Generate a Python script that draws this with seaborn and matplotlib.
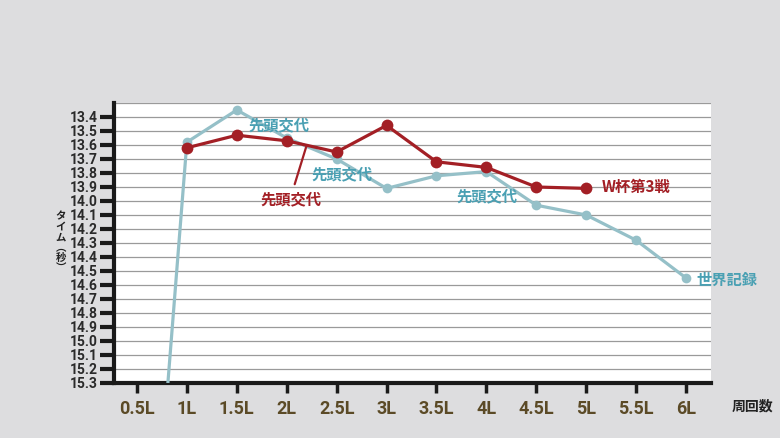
import pandas as pd
import numpy as np
import seaborn as sns
import matplotlib.pyplot as plt

#### data

laps = [0.5, 1, 1.5, 2, 2.5, 3, 3.5, 4, 4.5, 5, 5.5, 6]
lap_labels = ['0.5L', '1L', '1.5L', '2L', '2.5L', '3L', '3.5L', '4L', '4.5L', '5L', '5.5L', '6L']

# world record (light blue), the 0.5L split is off the scale
record_times = [18.1, 13.58, 13.35, 13.55, 13.70, 13.91, 13.82, 13.79, 14.03, 14.10, 14.28, 14.55]
# W杯第3戦 (red), no 0.5L point, ends at 5L
wc_laps = [1, 1.5, 2, 2.5, 3, 3.5, 4, 4.5, 5]
wc_times = [13.62, 13.53, 13.57, 13.65, 13.46, 13.72, 13.76, 13.90, 13.91]

y_ticks = [round(13.4 + 0.1 * i, 1) for i in range(20)]
y_title = ['タ', 'イ', 'ム', '︵', '秒', '︶']

####

RED = '#a31f25'
BLUE = '#95c0c8'
BLUE_TXT = '#4aa0b3'
CJK = ['Noto Sans CJK JP', 'DejaVu Sans']
NUM = ['Roboto', 'DejaVu Sans']

sns.set_theme(style='white')
plt.rcParams['font.family'] = CJK

rec = pd.DataFrame({'lap': laps, 'time': record_times})
wc = pd.DataFrame({'lap': wc_laps, 'time': wc_times})

fig = plt.figure(figsize=(7.8, 4.38), dpi=100, facecolor='#dddddf')
ax = fig.add_axes([114 / 780, 55 / 438, 597 / 780, 280 / 438])
ax.set_facecolor('white')

# grid lines every 0.1 s
for v in y_ticks:
    ax.axhline(v, color='#9a9a9a', lw=0.9, zorder=0)
ax.axhline(13.3, color='#9a9a9a', lw=0.9, zorder=0)

sns.lineplot(data=rec, x='lap', y='time', ax=ax, color=BLUE, lw=2.3,
             marker='o', markersize=7, markeredgewidth=0, sort=False, zorder=3)
sns.lineplot(data=wc, x='lap', y='time', ax=ax, color=RED, lw=2.3,
             marker='o', markersize=8.5, markeredgewidth=0, sort=False, zorder=4)

ax.set_xlim(0.27, 6.25)
ax.set_ylim(15.3, 13.3)

ax.set_yticks(y_ticks)
ax.set_yticklabels([f'{v:.1f}' for v in y_ticks], fontsize=10, fontweight='bold',
                   color='#2a2a2a', family=NUM)
ax.set_xticks(laps)
ax.set_xticklabels(lap_labels, fontsize=13, fontweight='bold', color='#5b4a26',
                   family=NUM)

ax.tick_params(axis='y', which='major', direction='out', length=10, width=3,
               color='#1a1a1a', pad=2, left=True)
ax.tick_params(axis='x', which='major', direction='out', length=7, width=2.5,
               color='#1a1a1a', pad=5, bottom=True)

for s in ['top', 'right']:
    ax.spines[s].set_visible(False)
for s in ['left', 'bottom']:
    ax.spines[s].set_color('#1a1a1a')
    ax.spines[s].set_linewidth(3)

ax.set_xlabel('')
ax.set_ylabel('')

# vertical japanese axis title, one character per row
for i, ch in enumerate(y_title):
    fig.text(61 / 780, 1 - (216 + 10.6 * i) / 438, ch, ha='center', va='center',
             fontsize=7.5, fontweight='bold', color='#222222', family=CJK)
fig.text(752 / 780, 1 - 407 / 438, '周回数', ha='center', va='center',
         fontsize=10, fontweight='bold', color='#222222', family=CJK)

# annotations
ann = dict(fontsize=11, fontweight='bold', family=CJK)
ax.text(1.92, 13.457, '先頭交代', color=BLUE_TXT, ha='center', va='center', **ann)
ax.text(2.555, 13.81, '先頭交代', color=BLUE_TXT, ha='center', va='center', **ann)
ax.text(4.01, 13.97, '先頭交代', color=BLUE_TXT, ha='center', va='center', **ann)
ax.text(2.04, 13.985, '先頭交代', color=RED, ha='center', va='center', **ann)
ax.plot([2.08, 2.2], [13.88, np.interp(2.2, wc_laps, wc_times)], color=RED, lw=1.6, zorder=5)
ax.text(5.16, 13.898, 'W杯第3戦', color=RED, ha='left', va='center', **ann)
ax.text(6.10, 14.56, '世界記録', color=BLUE_TXT, ha='left', va='center', **ann)

plt.savefig('out.png', dpi=100, facecolor=fig.get_facecolor())
